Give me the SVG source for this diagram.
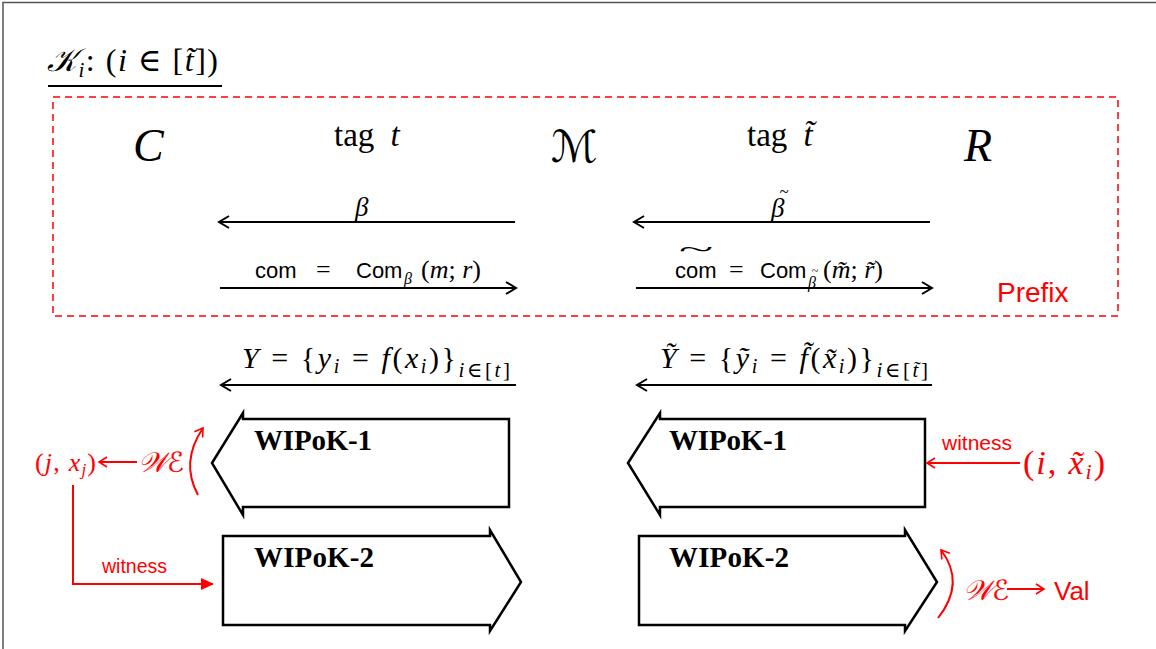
<svg xmlns="http://www.w3.org/2000/svg" width="1156" height="649" viewBox="0 0 1156 649">
<style>
.m{font-family:"Liberation Serif","DejaVu Serif",serif;fill:#000}
.i{font-style:italic}
.s{font-family:"Liberation Sans","DejaVu Sans",sans-serif}
.red{fill:#ff0000}
.cal{font-family:"DejaVu Sans",serif;font-style:italic}
.b{font-family:"Liberation Serif","DejaVu Serif",serif;font-weight:bold;font-size:29px}
.line{stroke:#000;stroke-width:2;fill:none}
.rl{stroke:#ff0000;stroke-width:2;fill:none}
.box{stroke:#000;stroke-width:2.5;fill:#fff;stroke-linejoin:miter}
</style>
<defs>
<marker id="ah" markerWidth="14" markerHeight="14" refX="12" refY="7" orient="auto" markerUnits="userSpaceOnUse">
<path d="M2,1 L12,7 L2,13" fill="none" stroke="#000" stroke-width="2"/>
</marker>
<marker id="rah" markerWidth="12" markerHeight="12" refX="10" refY="6" orient="auto" markerUnits="userSpaceOnUse">
<path d="M2,1 L10,6 L2,11" fill="none" stroke="#ff0000" stroke-width="1.6"/>
</marker>
<marker id="rfill" markerWidth="14" markerHeight="14" refX="12" refY="7" orient="auto" markerUnits="userSpaceOnUse">
<path d="M0,1 L13,7 L0,13 Z" fill="#ff0000"/>
</marker>
</defs>
<rect width="1156" height="649" fill="#fff"/>
<path d="M3,649 V2.5 H1156" stroke="#555" stroke-width="1.5" fill="none"/>

<g id="title">
<text class="m" x="47" y="71" font-size="32" textLength="171" lengthAdjust="spacing"><tspan class="cal">𝒦</tspan><tspan class="i" font-size="21" dy="6">i</tspan><tspan dy="-6">:  (</tspan><tspan class="i">i</tspan><tspan> ∈ [</tspan><tspan class="i">t̃</tspan><tspan>])</tspan></text>
<line x1="48" y1="86" x2="222" y2="86" stroke="#000" stroke-width="2"/>
</g>

<g id="prefix">
<rect x="53" y="97" width="1065" height="219" fill="none" stroke="#ff0000" stroke-width="1.5" stroke-dasharray="7,5"/>
<text class="s red" x="997" y="302" font-size="28">Prefix</text>
</g>

<g id="parties">
<text class="m i" x="133" y="161" font-size="46">C</text>
<text class="m" x="334" y="146" font-size="33" word-spacing="8">tag <tspan class="i">t</tspan></text>
<text class="cal" x="551" y="162" font-size="44">ℳ</text>
<text class="m" x="747" y="146" font-size="33" word-spacing="8">tag <tspan class="i">t̃</tspan></text>
<text class="m i" x="964" y="161" font-size="46">R</text>
</g>

<g id="connectors">
<line class="line" x1="515" y1="222" x2="219" y2="222" marker-end="url(#ah)"/>
<line class="line" x1="930" y1="222" x2="634" y2="222" marker-end="url(#ah)"/>
<line class="line" x1="220" y1="288" x2="516" y2="288" marker-end="url(#ah)"/>
<line class="line" x1="636" y1="288" x2="932" y2="288" marker-end="url(#ah)"/>
<line class="line" x1="516" y1="385" x2="221" y2="385" marker-end="url(#ah)"/>
<line class="line" x1="932" y1="385" x2="637" y2="385" marker-end="url(#ah)"/>
<line class="rl" x1="137" y1="462" x2="99" y2="462" marker-end="url(#rah)"/>
<path class="rl" d="M73,485 V584 H213" marker-end="url(#rfill)"/>
<path class="rl" d="M198,495 Q180,462 203,428" marker-end="url(#rah)"/>
<line class="rl" x1="1020" y1="463" x2="927" y2="463" stroke-width="1.6" marker-end="url(#rah)"/>
<path class="rl" d="M938,618 Q966,583 941,550" marker-end="url(#rah)"/>
<line class="rl" x1="1007" y1="589" x2="1044" y2="589" stroke-width="1.6" marker-end="url(#rah)"/>
</g>

<g id="labels">
<text class="m i" x="355" y="216" font-size="27">β</text>
<text class="m i" x="771" y="217" font-size="27">β</text>
<text class="m" x="784" y="197" font-size="17" text-anchor="middle">~</text>

<text class="s" x="255" y="278" font-size="22">com</text>
<text class="m" x="316" y="278" font-size="26">=</text>
<text class="s" x="356" y="278" font-size="22">Com</text>
<text class="m i" x="404" y="284" font-size="16">β</text>
<text class="m" x="421" y="278" font-size="26">(<tspan class="i">m</tspan>; <tspan class="i">r</tspan>)</text>

<text class="s" x="675" y="278" font-size="22">com</text>
<text class="m" x="696" y="256" font-size="20" text-anchor="middle" transform="translate(696 0) scale(3.2 1) translate(-696 0)">~</text>
<text class="m" x="729" y="278" font-size="26">=</text>
<text class="s" x="760" y="278" font-size="22">Com</text>
<text class="m i" x="808" y="288" font-size="16">β</text>
<text class="m" x="815" y="275" font-size="12" text-anchor="middle">~</text>
<text class="m" x="823" y="278" font-size="26">(<tspan class="i">m̃</tspan>; <tspan class="i">r̃</tspan>)</text>

<text class="m" x="242" y="368" font-size="30" textLength="268" lengthAdjust="spacing"><tspan class="i">Y</tspan> = {<tspan class="i">y</tspan><tspan class="i" font-size="20" dy="5">i</tspan><tspan dy="-5"> = </tspan><tspan class="i">f</tspan>(<tspan class="i">x</tspan><tspan class="i" font-size="20" dy="5">i</tspan><tspan dy="-5">)}</tspan><tspan font-size="21" dy="9"><tspan class="i">i</tspan>∈[<tspan class="i">t</tspan>]</tspan></text>
<text class="m" x="660" y="368" font-size="30" textLength="268" lengthAdjust="spacing"><tspan class="i">Ỹ</tspan> = {<tspan class="i">ỹ</tspan><tspan class="i" font-size="20" dy="5">i</tspan><tspan dy="-5"> = </tspan><tspan class="i">f̃</tspan>(<tspan class="i">x̃</tspan><tspan class="i" font-size="20" dy="5">i</tspan><tspan dy="-5">)}</tspan><tspan font-size="21" dy="9"><tspan class="i">i</tspan>∈[<tspan class="i">t̃</tspan>]</tspan></text>
</g>

<g id="wipok1-left">
<path class="box" d="M212,463 L243,413 V419 H509 V507 H243 V515 Z"/>
<text class="b" x="254" y="450" textLength="118" lengthAdjust="spacing">WIPoK-1</text>
</g>
<g id="wipok1-right">
<path class="box" d="M628,463 L660,413 V419 H925 V507 H660 V515 Z"/>
<text class="b" x="669" y="450" textLength="118" lengthAdjust="spacing">WIPoK-1</text>
</g>
<g id="wipok2-left">
<path class="box" d="M223,536 H490 V530 L521,582 L490,631 V625 H223 Z"/>
<text class="b" x="254" y="567" textLength="120" lengthAdjust="spacing">WIPoK-2</text>
</g>
<g id="wipok2-right">
<path class="box" d="M639,536 H905 V530 L937,582 L905,631 V625 H639 Z"/>
<text class="b" x="669" y="567" textLength="120" lengthAdjust="spacing">WIPoK-2</text>
</g>

<g id="we-left">
<text class="m red" x="35" y="471" font-size="26" textLength="61" lengthAdjust="spacing">(<tspan class="i">j</tspan>, <tspan class="i">x</tspan><tspan class="i" font-size="17" dy="4">j</tspan><tspan dy="-4">)</tspan></text>
<text class="red cal" x="138" y="472" font-size="28">𝒲ℰ</text>
<text class="s red" x="102" y="573" font-size="19.5">witness</text>
</g>
<g id="we-right">
<text class="s red" x="942" y="450" font-size="21">witness</text>
<text class="m red" x="1023" y="474" font-size="34" textLength="82" lengthAdjust="spacing">(<tspan class="i">i</tspan>, <tspan class="i">x̃</tspan><tspan class="i" font-size="22" dy="5">i</tspan><tspan dy="-5">)</tspan></text>
<text class="red cal" x="963" y="600" font-size="28">𝒲ℰ</text>
<text class="s red" x="1054" y="600" font-size="26">Val</text>
</g>
</svg>
